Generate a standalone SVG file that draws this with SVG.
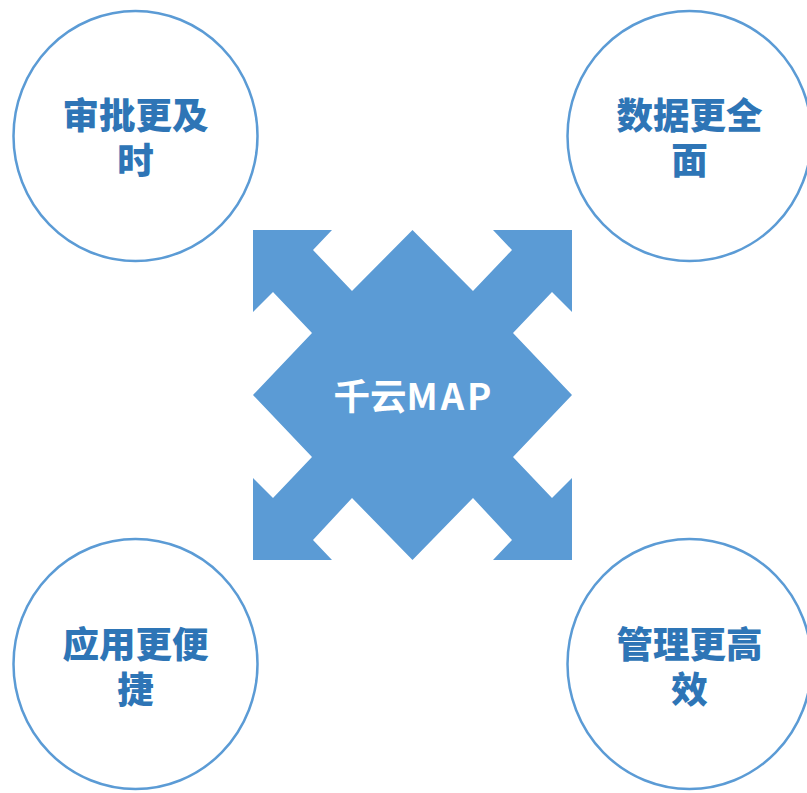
<svg xmlns="http://www.w3.org/2000/svg" width="807" height="793" viewBox="0 0 807 793">
<style>
.c{fill:#fff;stroke:#5b9bd5;stroke-width:2.5}
.t{font-family:"Noto Sans CJK SC","Noto Sans",sans-serif;font-weight:900;font-size:36.5px;fill:#2e75b6;text-anchor:middle}
.m{font-family:"Noto Sans CJK SC","Noto Sans",sans-serif;font-weight:bold;font-size:36.5px;fill:#fff;text-anchor:middle}
</style>
<rect width="807" height="793" fill="#fff"/>
<g id="center">
<path fill="#5b9bd5" d="M253,230 L332,230 L313,250 L352,291 L412.5,230 L473,291 L512,250 L493,230 L572,230 L572,312 L552,292 L513,333 L572,395 L513,457 L552,498 L572,478 L572,560 L493,560 L512,540 L473,498 L412.5,560 L352,498 L313,540 L332,560 L253,560 L253,478 L273,498 L312,457 L253,395 L312,333 L273,292 L253,312 Z"/>
<text class="m" x="414" y="410">千云<tspan letter-spacing="3">MAP</tspan></text>
</g>
<g id="n1">
<ellipse class="c" cx="135.5" cy="136" rx="122" ry="125"/>
<text class="t"><tspan x="135.5" y="129">审批更及</tspan><tspan x="135.5" y="174">时</tspan></text>
</g>
<g id="n2">
<ellipse class="c" cx="689.5" cy="136" rx="122" ry="125"/>
<text class="t"><tspan x="689.5" y="129">数据更全</tspan><tspan x="689.5" y="174">面</tspan></text>
</g>
<g id="n3">
<ellipse class="c" cx="135.5" cy="664" rx="122" ry="125"/>
<text class="t"><tspan x="135.5" y="658">应用更便</tspan><tspan x="135.5" y="703">捷</tspan></text>
</g>
<g id="n4">
<ellipse class="c" cx="689.5" cy="664" rx="122" ry="125"/>
<text class="t"><tspan x="689.5" y="658">管理更高</tspan><tspan x="689.5" y="703">效</tspan></text>
</g>
<g id="connectors"/>
</svg>
